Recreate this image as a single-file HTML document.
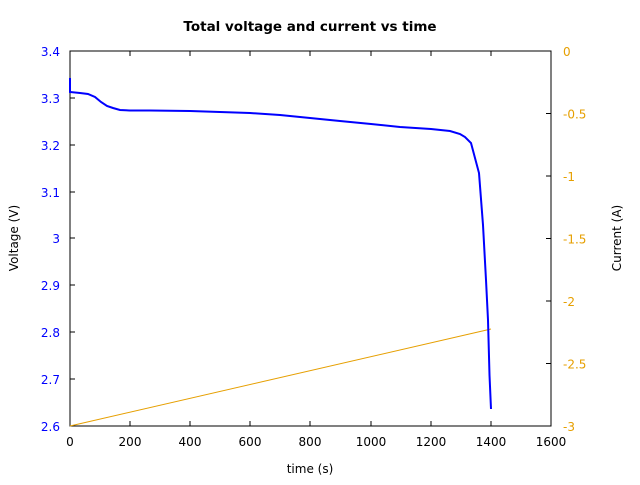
<!DOCTYPE html>
<html><head><style>body{margin:0;background:#fff}</style></head><body>
<svg width="640" height="480" xmlns="http://www.w3.org/2000/svg" font-family="DejaVu Sans, sans-serif" font-size="12">
<rect width="640" height="480" fill="#fff"/>
<text x="310" y="31" text-anchor="middle" font-weight="bold" font-size="13.5">Total voltage and current vs time</text>
<rect x="70" y="51" width="481" height="375" fill="none" stroke="#000" stroke-width="1"/>
<g stroke="#000">
<path d="M130,426v-5M130,51v5M190,426v-5M190,51v5M250,426v-5M250,51v5M310,426v-5M310,51v5M371,426v-5M371,51v5M431,426v-5M431,51v5M491,426v-5M491,51v5"/>
<path d="M70,98h5M70,145h5M70,192h5M70,238h5M70,285h5M70,332h5M70,379h5"/>
<path d="M551,113.5h-5M551,176h-5M551,238.5h-5M551,301h-5M551,363.5h-5"/>
</g>
<g text-anchor="middle" fill="#000">
<text x="70" y="446">0</text><text x="130" y="446">200</text><text x="190" y="446">400</text><text x="250" y="446">600</text><text x="310" y="446">800</text><text x="371" y="446">1000</text><text x="431" y="446">1200</text><text x="491" y="446">1400</text><text x="551" y="446">1600</text>
<text x="310" y="473">time (s)</text>
</g>
<g text-anchor="end" fill="#0000ff">
<text x="60" y="56">3.4</text><text x="60" y="103">3.3</text><text x="60" y="150">3.2</text><text x="60" y="197">3.1</text><text x="60" y="243">3</text><text x="60" y="290">2.9</text><text x="60" y="337">2.8</text><text x="60" y="384">2.7</text><text x="60" y="431">2.6</text>
</g>
<g fill="#e69f00">
<text x="563" y="56">0</text><text x="563" y="118.5">-0.5</text><text x="563" y="181">-1</text><text x="563" y="243.5">-1.5</text><text x="563" y="306">-2</text><text x="563" y="368.5">-2.5</text><text x="563" y="431">-3</text>
</g>
<text transform="translate(18,238) rotate(-90)" text-anchor="middle">Voltage (V)</text>
<text transform="translate(621,238) rotate(-90)" text-anchor="middle">Current (A)</text>
<line x1="70" y1="426" x2="491" y2="329" stroke="#e69f00" stroke-width="1"/>
<polyline fill="none" stroke="#0000ff" stroke-width="2" points="70,78 70,92 80,93 88,94 95,97 101,102 107,106 113,108 120,110 130,110.5 150,110.5 190,111 250,113 280,115 310,118 340,121 371,124 400,127 431,129 450,131 460,134 465,137 471,143 479,173 483,225 486,280 488,320 489.5,375 491,409"/>
</svg>
</body></html>
